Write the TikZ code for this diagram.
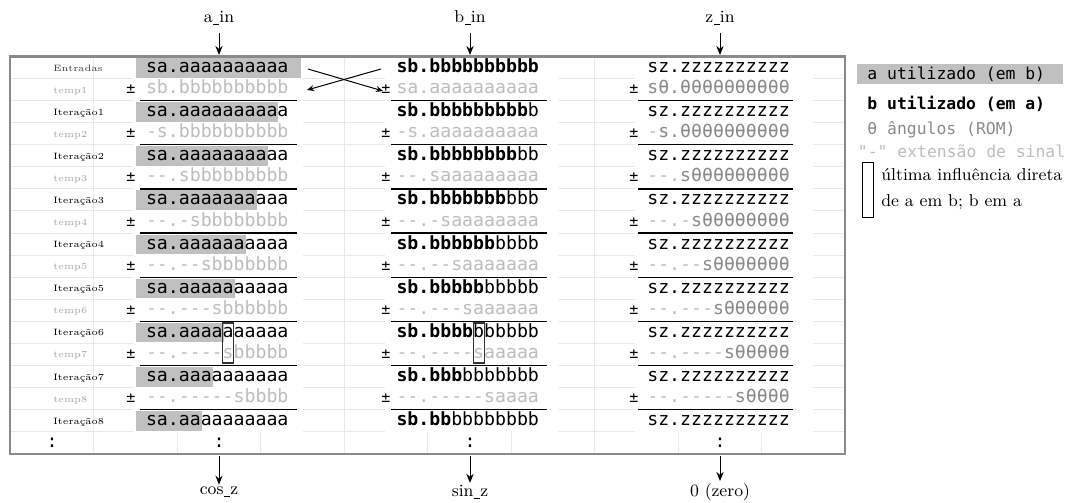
\documentclass[tikz,border=0pt]{standalone}
\usepackage{fontspec}
\setmonofont{DejaVu Sans Mono}
\usetikzlibrary{arrows.meta}

\definecolor{gridline}{HTML}{E9E9E9}
\definecolor{framec}{HTML}{8A8A8A}
\definecolor{usedbg}{HTML}{C0C0C0}
\definecolor{faded}{HTML}{BDBDBD}
\definecolor{romc}{HTML}{8A8A8A}
\definecolor{templab}{HTML}{A6A6A6}
\definecolor{entlab}{HTML}{404040}

\newcommand\tabfont{\ttfamily\fontsize{9.1}{10}\selectfont}
\newcommand\legfont{\ttfamily\fontsize{8.2}{10}\selectfont}
\newcommand\labfont{\fontsize{4.6}{6}\selectfont}
\newcommand\iofont{\fontsize{8.6}{10}\selectfont}
% short underscore used in signal names
\newcommand\us{\kern0.2pt\rule[-1.1pt]{3pt}{0.35pt}\kern0.2pt}

\newcommand\fd[1]{\textcolor{faded}{#1}}
\newcommand\rc[1]{\textcolor{romc}{#1}}

\tikzset{
  cell/.style={anchor=base west, inner sep=0pt, outer sep=0pt, font=\tabfont},
  rowlab/.style={anchor=base west, inner sep=0pt, font=\labfont},
  pmsign/.style={anchor=base, inner sep=0pt, font=\ttfamily\fontsize{7.5}{8}\selectfont},
  sumrule/.style={line width=0.65pt, black},
  used/.style={fill=usedbg},
  infl/.style={draw=black!80, line width=0.7pt},
  flow/.style={-{Stealth[length=4.5pt,width=3.6pt]}, line width=0.5pt},
  swaparrow/.style={-{Stealth[length=3.5pt,width=3pt]}, line width=0.5pt},
  ioname/.style={inner sep=1pt, font=\iofont},
  legtext/.style={anchor=base west, inner sep=0pt, font=\legfont},
  dotsnode/.style={anchor=base, inner sep=0pt, font=\tabfont},
}

% row of shifted operands: #1 row, #2 step, #3 a column, #4 b column, #5 z column
\newcommand\TempRow[5]{%
  \pgfmathsetmacro\yc{56.5+22.07*(#1+0.5)}%
  \pgfmathsetmacro\yr{56.5+22.07*(#1+1)}%
  \node[rowlab, text=templab] (lab#1) at (53,\yc+3.5) {temp#2};
  \node[pmsign] (pa#1) at (131,\yc+4) {±};
  \node[cell, text=faded] (a#1) at (146,\yc+4) {#3};
  \draw[sumrule] (140,\yr) -- (297,\yr);
  \node[pmsign] (pb#1) at (386,\yc+4) {±};
  \node[cell, text=faded] (b#1) at (396.5,\yc+4) {#4};
  \draw[sumrule] (391,\yr) -- (547,\yr);
  \node[pmsign] (pz#1) at (634,\yc+4) {±};
  \node[cell] (z#1) at (647.3,\yc+4) {#5};
  \draw[sumrule] (638,\yr) -- (793,\yr);
}

% row of results: #1 row, #2 step, #3/#4 a bits used/unused, #5/#6 b bits used/unused
\newcommand\IterRow[6]{%
  \pgfmathsetmacro\yc{56.5+22.07*(#1+0.5)}%
  \pgfmathsetmacro\yt{56.5+22.07*#1+1.5}%
  \pgfmathsetmacro\ybt{56.5+22.07*(#1+1)-1}%
  \pgfmathsetmacro\xe{146+(13-#2)*10.958+1}%
  \fill[used] (136,\yt) rectangle (\xe,\ybt);
  \node[rowlab] (lab#1) at (53,\yc+3.5) {Iteração#2};
  \node[cell] (a#1) at (146,\yc+5) {#3#4};
  \node[cell] (b#1) at (396.5,\yc+5) {\textbf{#5}#6};
  \node[cell] (z#1) at (647.3,\yc+5) {sz.zzzzzzzzzz};
}

\begin{document}
\begin{tikzpicture}[x=0.5pt,y=-0.5pt]
\useasboundingbox (0,0) rectangle (1077,503);

% sheet grid
\foreach \k in {1,...,9} \draw[gridline, line width=0.5pt] ({10+83.5*\k},56.5) -- ({10+83.5*\k},453.8);
\foreach \k in {1,...,17} \draw[gridline, line width=0.5pt] (10,{56.5+22.07*\k}) -- (845,{56.5+22.07*\k});
% merged cells holding the three registers
\fill[white] (133,57) rectangle (303,431.7);
\fill[white] (385,57) rectangle (558,431.7);
\fill[white] (635,57) rectangle (813,431.7);

% inputs
\fill[used] (136,58) rectangle (301,77.6);
\node[rowlab, text=entlab] (lab0) at (53,71) {Entradas};
\node[cell] (a0) at (146,72.5) {sa.aaaaaaaaaa};
\node[cell] (b0) at (396.5,72.5) {\textbf{sb.bbbbbbbbbb}};
\node[cell] (z0) at (647.3,72.5) {sz.zzzzzzzzzz};

% iterations
\TempRow{1}{1}{sb.bbbbbbbbbb}{sa.aaaaaaaaaa}{\rc{sθ.θθθθθθθθθθ}}
\IterRow{2}{1}{sa.aaaaaaaaa}{a}{sb.bbbbbbbbb}{b}
\TempRow{3}{2}{-s.bbbbbbbbbb}{-s.aaaaaaaaaa}{\fd{-}\rc{s.θθθθθθθθθθ}}
\IterRow{4}{2}{sa.aaaaaaaa}{aa}{sb.bbbbbbbb}{bb}
\TempRow{5}{3}{--.sbbbbbbbbb}{--.saaaaaaaaa}{\fd{--.}\rc{sθθθθθθθθθ}}
\IterRow{6}{3}{sa.aaaaaaa}{aaa}{sb.bbbbbbb}{bbb}
\TempRow{7}{4}{--.-sbbbbbbbb}{--.-saaaaaaaa}{\fd{--.-}\rc{sθθθθθθθθ}}
\IterRow{8}{4}{sa.aaaaaa}{aaaa}{sb.bbbbbb}{bbbb}
\TempRow{9}{5}{--.--sbbbbbbb}{--.--saaaaaaa}{\fd{--.--}\rc{sθθθθθθθ}}
\IterRow{10}{5}{sa.aaaaa}{aaaaa}{sb.bbbbb}{bbbbb}
\TempRow{11}{6}{--.---sbbbbbb}{--.---saaaaaa}{\fd{--.---}\rc{sθθθθθθ}}
\IterRow{12}{6}{sa.aaaa}{aaaaaa}{sb.bbbb}{bbbbbb}
\TempRow{13}{7}{--.----sbbbbb}{--.----saaaaa}{\fd{--.----}\rc{sθθθθθ}}
\IterRow{14}{7}{sa.aaa}{aaaaaaa}{sb.bbb}{bbbbbbb}
\TempRow{15}{8}{--.-----sbbbb}{--.-----saaaa}{\fd{--.-----}\rc{sθθθθ}}
\IterRow{16}{8}{sa.aa}{aaaaaaaa}{sb.bb}{bbbbbbbb}

% last direct influence of a on b and of b on a
\draw[infl] (222.7,323) rectangle (233.7,363);
\draw[infl] (473.2,323) rectangle (484.2,363);

% continuation row
\node[dotsnode] (dl) at (52,447.7) {:};
\node[dotsnode] (da) at (219,447.7) {:};
\node[dotsnode] (db) at (470,447.7) {:};
\node[dotsnode] (dz) at (720,447.7) {:};

% sheet frame
\draw[framec, line width=1.3pt] (10,56.5) rectangle (845,453.8);

% first step swaps the operands
\coordinate (sw1s) at (308,69);
\coordinate (sw1e) at (383,91);
\coordinate (sw2s) at (381,69);
\coordinate (sw2e) at (307,90);
\draw[swaparrow] (sw1s) -- (sw1e);
\draw[swaparrow] (sw2s) -- (sw2e);

% inputs and outputs
\node[ioname] (ain) at (219,18) {a\us in};
\node[ioname] (bin) at (470,18) {b\us in};
\node[ioname] (zin) at (720,18) {z\us in};
\coordinate (ain-t) at (219,55);
\coordinate (bin-t) at (470,55);
\coordinate (zin-t) at (720,55);
\draw[flow, shorten <=3pt] (ain) -- (ain-t);
\draw[flow, shorten <=3pt] (bin) -- (bin-t);
\draw[flow, shorten <=3pt] (zin) -- (zin-t);

\node[ioname] (cosz) at (219,492) {cos\us z};
\node[ioname] (sinz) at (470,492) {sin\us z};
\node[ioname] (zero) at (720,492) {0 (zero)};
\coordinate (cos-f) at (219,456);
\coordinate (sin-f) at (470,456);
\coordinate (zero-f) at (720,456);
\draw[flow] (cos-f) -- (cosz);
\draw[flow] (sin-f) -- (sinz);
\draw[flow] (zero-f) -- (zero);

% legend
\fill[used] (857,64) rectangle (1063,84);
\node[legtext] (leg1) at (867,79.5) {a utilizado (em b)};
\node[legtext] (leg2) at (867,109) {\textbf{b utilizado (em a)}};
\node[legtext, text=romc] (leg3) at (867,134) {θ ângulos (ROM)};
\node[legtext, text=faded] (leg4) at (857.5,157) {"-" extensão de sinal};
\draw[black, line width=0.5pt] (862,162) rectangle (873,217);
\node[anchor=base west, inner sep=0pt, font=\fontsize{8.6}{10}\selectfont] (leg5) at (881,180.5) {última influência direta};
\node[anchor=base west, inner sep=0pt, font=\fontsize{8.6}{10}\selectfont] (leg6) at (881,206.5) {de a em b; b em a};
\end{tikzpicture}
\end{document}
